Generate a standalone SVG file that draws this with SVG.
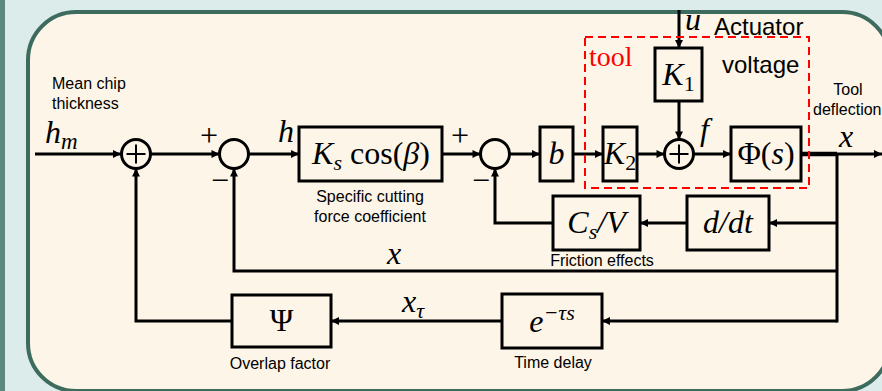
<svg xmlns="http://www.w3.org/2000/svg" width="882" height="391" viewBox="0 0 882 391">
<defs>
<marker id="ah" viewBox="0 0 10 10" refX="10" refY="5" markerWidth="10" markerHeight="8" markerUnits="userSpaceOnUse" orient="auto">
<path d="M0,0 L10,5 L0,10 z" fill="#000"/>
</marker>
<style>
.bx{fill:none;stroke:#000;stroke-width:3}
.ln{fill:none;stroke:#000;stroke-width:3}
.ar{fill:none;stroke:#000;stroke-width:3;marker-end:url(#ah)}
.sm{fill:none;stroke:#000;stroke-width:3}
.cr{stroke:#000;stroke-width:2}
.m{font-family:"Liberation Serif","DejaVu Serif",serif;font-size:32px;fill:#000}
.i{font-style:italic}
.lb{font-family:"Liberation Sans",Arial,sans-serif;font-size:16px;fill:#000}
.big{font-family:"Liberation Sans",Arial,sans-serif;font-size:24px;fill:#000}
.sg{font-family:"Liberation Serif","DejaVu Serif",serif;font-size:32px;fill:#000}
</style>
</defs>
<rect x="0" y="0" width="882" height="391" fill="#dcecea"/>
<rect x="0" y="0" width="5" height="391" fill="#5b8a7d"/>
<rect x="28" y="12" width="862" height="379" rx="48" ry="48" fill="#fcf5e8" stroke="#3d6b5e" stroke-width="4"/>

<g id="connectors">
<line class="ar" x1="35" y1="154" x2="121" y2="154"/>
<line class="ar" x1="150.5" y1="154" x2="219.5" y2="154"/>
<line class="ar" x1="248.5" y1="154" x2="299" y2="154"/>
<line class="ar" x1="442" y1="154" x2="480.5" y2="154"/>
<line class="ar" x1="509.5" y1="154" x2="540" y2="154"/>
<line class="ar" x1="573" y1="154" x2="603" y2="154"/>
<line class="ar" x1="637" y1="154" x2="664.5" y2="154"/>
<line class="ar" x1="693.5" y1="154" x2="731" y2="154"/>
<line class="ln" x1="801" y1="154" x2="837" y2="154" style="stroke-width:4.5"/>
<line class="ar" x1="837" y1="154" x2="882" y2="154"/>
<line class="ar" x1="679" y1="10" x2="679" y2="48"/>
<line class="ar" x1="679" y1="101" x2="679" y2="139.5"/>
<line class="ln" x1="837" y1="154" x2="837" y2="322.5"/>
<line class="ar" x1="837" y1="223" x2="769" y2="223"/>
<line class="ar" x1="687" y1="223" x2="640" y2="223"/>
<polyline class="ar" points="553,223 495,223 495,168.5"/>
<polyline class="ar" points="837,271 234,271 234,168.5"/>
<line class="ar" x1="837" y1="321" x2="602" y2="321"/>
<line class="ar" x1="502" y1="321" x2="331" y2="321"/>
<polyline class="ar" points="232,321 136,321 136,168.5"/>
</g>

<g id="tool-frame">
<rect x="585" y="37" width="224" height="151" fill="none" stroke="#ff0000" stroke-width="2" stroke-dasharray="8 5"/>
<text x="589" y="66" font-family="Liberation Serif, serif" font-size="28" fill="#ff0000">tool</text>
</g>

<g id="sum1">
<circle class="sm" cx="136" cy="154" r="14.5"/>
<line class="cr" x1="126.5" y1="154" x2="145.5" y2="154"/>
<line class="cr" x1="136" y1="144.5" x2="136" y2="163.5"/>
</g>
<g id="sum2">
<circle class="sm" cx="234" cy="154" r="14.5"/>
<text class="sg" x="209" y="146" text-anchor="middle">+</text>
<text class="sg" x="220" y="191" text-anchor="middle">−</text>
</g>
<g id="sum3">
<circle class="sm" cx="495" cy="154" r="14.5"/>
<text class="sg" x="460" y="146" text-anchor="middle">+</text>
<text class="sg" x="481" y="191" text-anchor="middle">−</text>
</g>
<g id="sum4">
<circle class="sm" cx="679" cy="154" r="14.5"/>
<line class="cr" x1="669.5" y1="154" x2="688.5" y2="154"/>
<line class="cr" x1="679" y1="144.5" x2="679" y2="163.5"/>
</g>

<g id="input">
<text class="m" x="45" y="143"><tspan class="i">h</tspan><tspan class="i" font-size="23" dy="6">m</tspan></text>
<text class="lb" x="52" y="89">Mean chip</text>
<text class="lb" x="52" y="109">thickness</text>
</g>
<text class="m i" x="278" y="142">h</text>

<g id="ks">
<rect class="bx" x="299" y="127" width="143" height="54"/>
<text class="m" x="371" y="164" text-anchor="middle"><tspan class="i">K</tspan><tspan class="i" font-size="22" dy="6">s</tspan><tspan dy="-6"> cos(</tspan><tspan class="i">β</tspan><tspan>)</tspan></text>
<text class="lb" x="370" y="202" text-anchor="middle">Specific cutting</text>
<text class="lb" x="370" y="222" text-anchor="middle">force coefficient</text>
</g>

<g id="b">
<rect class="bx" x="540" y="127" width="33" height="54"/>
<text class="m i" x="556.5" y="164" text-anchor="middle">b</text>
</g>

<g id="k2">
<rect class="bx" x="603" y="127" width="34" height="54"/>
<text class="m" x="620" y="164" text-anchor="middle"><tspan class="i">K</tspan><tspan font-size="22" dy="6">2</tspan></text>
</g>

<g id="k1">
<rect class="bx" x="655" y="48" width="47" height="53"/>
<text class="m" x="678.5" y="85" text-anchor="middle"><tspan class="i">K</tspan><tspan font-size="22" dy="6">1</tspan></text>
</g>

<g id="actuator">
<text class="m i" x="685" y="30">u</text>
<text class="big" x="714" y="35">Actuator</text>
<text class="big" x="722" y="73">voltage</text>
</g>
<text class="m i" x="700" y="140">f</text>

<g id="phi">
<rect class="bx" x="731" y="127" width="70" height="54"/>
<text class="m" x="766" y="164" text-anchor="middle">Φ(<tspan class="i">s</tspan>)</text>
</g>

<g id="output">
<text class="lb" x="848" y="95" text-anchor="middle">Tool</text>
<text class="lb" x="813" y="115">deflection</text>
<text class="m i" x="846" y="147" text-anchor="middle" font-size="30">x</text>
</g>

<g id="ddt">
<rect class="bx" x="687" y="196" width="82" height="54"/>
<text class="m i" x="728" y="233" text-anchor="middle">d/dt</text>
</g>

<g id="csv">
<rect class="bx" x="553" y="196" width="87" height="54"/>
<text class="m" x="596.5" y="233" text-anchor="middle"><tspan class="i">C</tspan><tspan class="i" font-size="22" dy="6">s</tspan><tspan class="i" dy="-6">/V</tspan></text>
<text class="lb" x="602" y="266" text-anchor="middle">Friction effects</text>
</g>
<text class="m i" x="394" y="264" text-anchor="middle">x</text>

<g id="delay">
<rect class="bx" x="502" y="294" width="100" height="54"/>
<text class="m" x="552" y="332" text-anchor="middle"><tspan class="i">e</tspan><tspan class="i" font-size="22" dy="-12">−τs</tspan></text>
<text class="lb" x="553" y="368" text-anchor="middle">Time delay</text>
</g>
<text class="m" x="402" y="312"><tspan class="i">x</tspan><tspan class="i" font-size="22" dy="6">τ</tspan></text>

<g id="psi">
<rect class="bx" x="232" y="295" width="99" height="52"/>
<text class="m" x="281.5" y="331" text-anchor="middle">Ψ</text>
<text class="lb" x="280" y="369" text-anchor="middle">Overlap factor</text>
</g>
</svg>
